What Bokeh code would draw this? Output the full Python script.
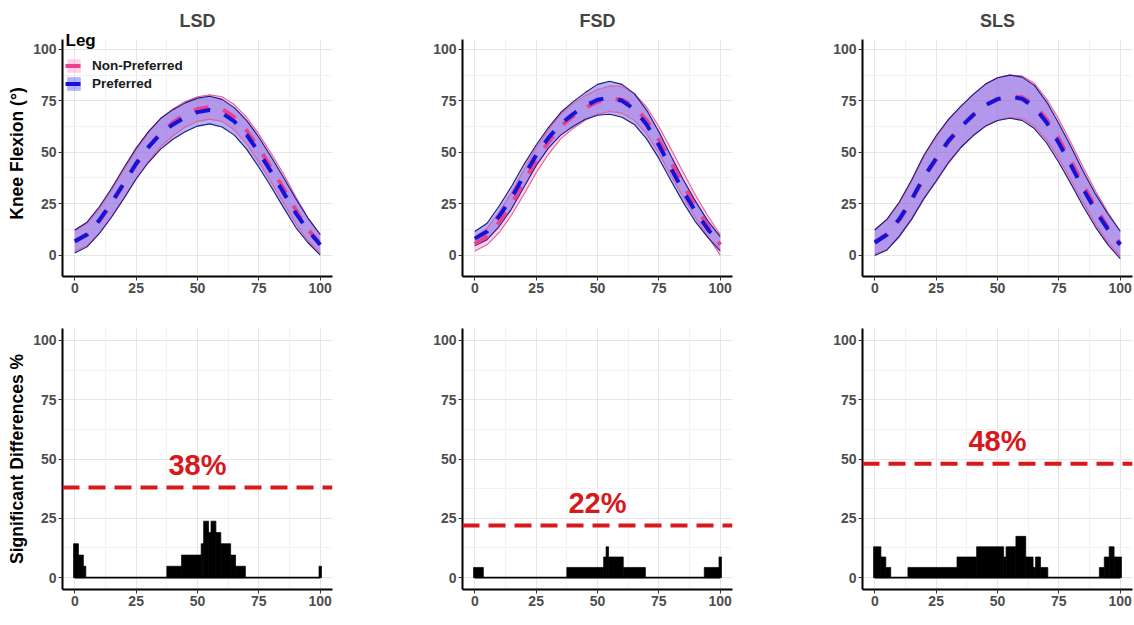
import numpy as np
from bokeh.plotting import figure
from bokeh.layouts import row, column
from bokeh.models import FixedTicker, Span, Label, Legend, LegendItem, BoxAnnotation
from bokeh.embed import file_html
from bokeh.resources import INLINE

# ---------------- data ----------------
pct = [0, 5, 10, 15, 20, 25, 30, 35, 40, 45, 50, 55, 60, 65, 70, 75, 80, 85, 90, 95, 100]
tasks = ["LSD", "FSD", "SLS"]
legs = ["Non-Preferred", "Preferred"]
legend_title = "Leg"

# knee flexion (deg): mean and SD per leg
lsd_pref_mean = [6.6, 10.0, 17.0, 25.5, 35.0, 44.5, 52.5, 59.0, 63.5, 67.0, 69.5, 70.5, 69.0, 65.0, 58.5, 50.0, 40.5, 30.5, 20.5, 12.0, 5.0]
lsd_pref_sd = [5.6, 6.0, 6.5, 7.0, 7.5, 7.5, 7.5, 7.5, 7.2, 7.0, 6.8, 6.7, 6.7, 6.7, 7.0, 7.3, 7.3, 7.3, 7.0, 6.0, 5.0]
lsd_nonpref_mean = [7.0, 10.0, 16.5, 25.0, 34.5, 44.0, 52.5, 59.5, 64.5, 68.5, 71.0, 72.0, 71.0, 67.0, 60.5, 52.0, 42.5, 32.5, 22.0, 12.5, 5.5]
lsd_nonpref_sd = [5.0, 5.5, 6.0, 6.5, 7.0, 7.0, 7.0, 6.8, 6.5, 6.2, 6.0, 5.9, 6.0, 6.2, 6.5, 6.8, 7.0, 7.0, 6.5, 5.5, 4.5]

fsd_pref_mean = [8.0, 11.5, 19.0, 28.0, 38.5, 48.5, 57.0, 63.8, 68.5, 72.5, 75.5, 76.5, 75.0, 71.0, 63.5, 53.5, 42.0, 31.0, 21.0, 12.5, 5.5]
fsd_pref_sd = [3.5, 4.0, 5.0, 5.5, 5.5, 5.0, 5.0, 5.5, 6.0, 6.5, 7.5, 8.0, 8.0, 7.5, 7.0, 6.5, 6.0, 5.5, 5.0, 4.0, 3.5]
fsd_nonpref_mean = [5.5, 9.0, 16.0, 25.0, 35.5, 46.0, 55.0, 62.5, 67.5, 71.5, 74.5, 76.0, 75.5, 72.0, 65.5, 56.0, 45.0, 34.0, 23.5, 14.0, 5.0]
fsd_nonpref_sd = [3.5, 4.0, 5.0, 5.5, 6.0, 6.0, 6.0, 6.0, 6.0, 6.0, 6.0, 6.2, 6.5, 6.5, 6.5, 6.5, 6.5, 6.0, 5.5, 5.0, 5.0]

sls_pref_mean = [6.0, 10.0, 17.5, 27.0, 38.0, 47.0, 55.5, 62.3, 68.0, 72.8, 75.8, 77.0, 76.0, 72.0, 64.5, 54.5, 43.5, 32.0, 21.5, 12.5, 5.0]
sls_pref_sd = [6.2, 7.5, 8.3, 9.5, 10.5, 11.0, 10.5, 10.0, 10.0, 10.2, 10.4, 10.5, 10.5, 10.5, 10.0, 9.5, 9.0, 8.5, 8.0, 7.5, 6.7]
sls_nonpref_mean = [6.5, 10.0, 17.0, 26.5, 37.5, 46.5, 55.0, 62.0, 68.0, 72.8, 75.8, 77.2, 76.8, 73.2, 66.0, 56.5, 45.5, 34.0, 23.0, 13.5, 5.5]
sls_nonpref_sd = [6.0, 7.3, 8.2, 9.3, 10.3, 10.8, 10.5, 10.0, 10.0, 10.2, 10.4, 10.3, 10.3, 10.3, 10.0, 9.5, 9.0, 8.5, 8.0, 7.3, 6.0]

# significant differences (%) as runs over percent of task
lsd_sig_start = [-0.5, 1.5, 3.5, 37.5, 43.5, 51.5, 52.5, 54.5, 55.5, 57.5, 59.5, 63.5, 65.5, 99.5]
lsd_sig_end = [1.5, 3.5, 4.5, 43.5, 51.5, 52.5, 54.5, 55.5, 57.5, 59.5, 63.5, 65.5, 69.5, 100.5]
lsd_sig_pct = [14.3, 9.5, 4.8, 4.8, 9.5, 14.3, 23.8, 19.0, 23.8, 19.0, 14.3, 9.5, 4.8, 4.8]

fsd_sig_start = [-0.5, 37.5, 52.5, 53.5, 54.5, 60.5, 93.5, 99.5]
fsd_sig_end = [3.5, 52.5, 53.5, 54.5, 60.5, 69.5, 99.5, 100.5]
fsd_sig_pct = [4.3, 4.3, 8.7, 13.0, 8.7, 4.3, 4.3, 8.7]

sls_sig_start = [-0.5, 2.5, 4.5, 13.5, 33.5, 41.5, 52.5, 53.5, 57.5, 61.5, 64.5, 65.5, 67.5, 91.5, 93.5, 95.5, 97.5]
sls_sig_end = [2.5, 4.5, 6.5, 33.5, 41.5, 52.5, 53.5, 57.5, 61.5, 64.5, 65.5, 67.5, 70.5, 93.5, 95.5, 97.5, 100.5]
sls_sig_pct = [13.0, 8.7, 4.3, 4.3, 8.7, 13.0, 8.7, 13.0, 17.4, 8.7, 4.3, 8.7, 4.3, 4.3, 8.7, 13.0, 8.7]

thresholds = [38, 22, 48]
tick_vals = [0, 25, 50, 75, 100]
minor_vals = [-12.5, 12.5, 37.5, 62.5, 87.5]

# ---------------- style ----------------
FONT = "Liberation Sans"
NP_FILL, NP_EDGE, NP_MEAN = "#FF8CC6", "#E0609A", "#E8408C"
P_FILL, P_EDGE, P_MEAN = "#4040F0", "#1A1A80", "#1414D8"
RED = "#D7191C"

FRAME_W = 270
LEFT = 62
TOP_Y0, TOP_Y1 = -10.4, 104.8
TOP_FRAME_H = 237
EXTRA_TOP = 9   # px of blank headroom above each top panel (room for the legend title)


def style(p, ylab=None):
    p.outline_line_color = None
    p.background_fill_color = "white"
    p.border_fill_color = "white"
    tk = FixedTicker(ticks=tick_vals, minor_ticks=minor_vals)
    for ax in (p.xaxis[0], p.yaxis[0]):
        ax.ticker = tk
        ax.axis_line_color = "black"
        ax.axis_line_width = 2
        ax.major_tick_line_color = "#333333"
        ax.major_tick_line_width = 1
        ax.major_tick_in = 0
        ax.major_tick_out = 4
        ax.minor_tick_line_color = None
        ax.major_label_text_font = FONT
        ax.major_label_text_font_size = "14px"
        ax.major_label_text_font_style = "bold"
        ax.major_label_text_color = "#4D4D4D"
        ax.major_label_standoff = 2
    for g in (p.xgrid[0], p.ygrid[0]):
        g.ticker = tk
        g.grid_line_color = "#E6E6E6"
        g.grid_line_width = 1
        g.minor_grid_line_color = "#F2F2F2"
        g.minor_grid_line_width = 1
    if ylab:
        p.yaxis.axis_label = ylab
        p.yaxis.axis_label_text_font = FONT
        p.yaxis.axis_label_text_font_size = "17.5px"
        p.yaxis.axis_label_text_font_style = "bold"
        p.yaxis.axis_label_text_color = "black"
        p.yaxis.axis_label_standoff = 3


def top_panel(i, width, np_mean, np_sd, p_mean, p_sd):
    extra = EXTRA_TOP
    y_top = TOP_Y1 + extra * (TOP_Y1 - TOP_Y0) / TOP_FRAME_H
    p = figure(width=width, height=300, x_range=(-5, 105), y_range=(TOP_Y0, y_top),
               output_backend="svg", toolbar_location=None, title=tasks[i],
               min_border_left=LEFT, min_border_right=width - LEFT - FRAME_W,
               min_border_top=39 - extra, min_border_bottom=24)
    p.title.align = "center"
    p.title.text_font = FONT
    p.title.text_font_size = "18px"
    p.title.text_font_style = "bold"
    p.title.standoff = 0
    style(p, "Knee Flexion (°)" if i == 0 else None)
    p.yaxis.bounds = (TOP_Y0, TOP_Y1)
    # keep the headroom above the panel blank (covers grid lines there)
    p.add_layout(BoxAnnotation(bottom=TOP_Y1, fill_color="white", fill_alpha=1.0,
                               line_color=None, level="underlay"))
    x = np.array(pct, dtype=float)
    npm, nps = np.array(np_mean), np.array(np_sd)
    pm, ps = np.array(p_mean), np.array(p_sd)
    band_np = p.varea(x=x, y1=npm - nps, y2=npm + nps, fill_color=NP_FILL, fill_alpha=0.4)
    band_p = p.varea(x=x, y1=pm - ps, y2=pm + ps, fill_color=P_FILL, fill_alpha=0.4)
    for yy in (npm - nps, npm + nps):
        p.line(x, yy, line_color=NP_EDGE, line_width=1.1)
    for yy in (pm - ps, pm + ps):
        p.line(x, yy, line_color=P_EDGE, line_width=1.1)
    mean_np = p.line(x, npm, line_color=NP_MEAN, line_width=4, line_dash="15 15")
    mean_p = p.line(x, pm, line_color=P_MEAN, line_width=4, line_dash="15 15")
    if i == 0:
        leg = Legend(items=[LegendItem(label=legs[0], renderers=[band_np, mean_np]),
                            LegendItem(label=legs[1], renderers=[band_p, mean_p])],
                     location=(3, 184), padding=0, margin=0, spacing=1,
                     glyph_width=17, glyph_height=17, label_height=17, label_standoff=10,
                     background_fill_alpha=0, border_line_alpha=0)
        leg.label_text_font = FONT
        leg.label_text_font_size = "13.5px"
        leg.label_text_font_style = "bold"
        leg.label_text_color = "#1A1A1A"
        p.add_layout(leg)
        p.add_layout(Label(x=3, y=TOP_FRAME_H + extra, x_units="screen", y_units="screen",
                           text=legend_title, text_align="left", text_baseline="top",
                           text_font=FONT, text_font_size="17px", text_font_style="bold",
                           text_color="black"))
    return p


def bottom_panel(i, width, start, end, vals):
    p = figure(width=width, height=325, x_range=(-5, 105), y_range=(-5, 105),
               output_backend="svg", toolbar_location=None,
               min_border_left=LEFT, min_border_right=width - LEFT - FRAME_W,
               min_border_top=28, min_border_bottom=36)
    style(p, "Significant Differences %" if i == 0 else None)
    p.quad(left=start, right=end, bottom=0, top=vals, fill_color="black",
           line_color="black", line_width=0.7)
    p.line([pct[0], pct[-1]], [0, 0], line_color="black", line_width=1.6)
    thr = thresholds[i]
    p.add_layout(Span(location=thr, dimension="width", line_color=RED, line_width=4,
                      line_dash="17 9"))
    p.add_layout(Label(x=50, y=thr + 9.5, text=f"{thr}%", text_align="center",
                       text_baseline="middle", text_font=FONT, text_font_size="29px",
                       text_font_style="bold", text_color=RED))
    p.add_layout(Label(x=FRAME_W / 2, y=-16, x_units="screen", y_units="screen",
                       text=f"Percent of {tasks[i]}", text_align="center", text_baseline="top",
                       text_font=FONT, text_font_size="17.5px", text_font_style="bold",
                       text_color="black"))
    return p


widths = [400, 400, 334]
tops = [
    top_panel(0, widths[0], lsd_nonpref_mean, lsd_nonpref_sd, lsd_pref_mean, lsd_pref_sd),
    top_panel(1, widths[1], fsd_nonpref_mean, fsd_nonpref_sd, fsd_pref_mean, fsd_pref_sd),
    top_panel(2, widths[2], sls_nonpref_mean, sls_nonpref_sd, sls_pref_mean, sls_pref_sd),
]
bottoms = [
    bottom_panel(0, widths[0], lsd_sig_start, lsd_sig_end, lsd_sig_pct),
    bottom_panel(1, widths[1], fsd_sig_start, fsd_sig_end, fsd_sig_pct),
    bottom_panel(2, widths[2], sls_sig_start, sls_sig_end, sls_sig_pct),
]

layout = column(row(*tops, spacing=0), row(*bottoms, spacing=0), spacing=0)
open("out.html", "w").write(file_html(layout, INLINE))
